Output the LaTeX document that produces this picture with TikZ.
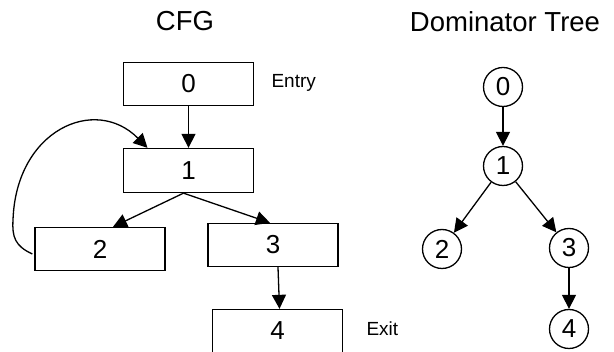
\documentclass[tikz,border=0pt]{standalone}
\usepackage{fontspec}
\setmainfont{Liberation Sans}
\usetikzlibrary{arrows.meta,calc}
\begin{document}
\begin{tikzpicture}[x=1pt,y=-1pt,
  box/.style={draw,line width=1.3pt,minimum width=130pt,minimum height=43pt,inner sep=0pt,font=\fontsize{26}{26}\selectfont},
  tnode/.style={draw,circle,line width=1.3pt,minimum size=39pt,inner sep=0pt,font=\fontsize{26}{26}\selectfont},
  title/.style={font=\fontsize{27.5}{28}\selectfont,anchor=base},
  lbl/.style={font=\fontsize{19}{19}\selectfont,anchor=base west},
  arr/.style={line width=1.3pt,-{Triangle[length=14pt,width=14pt]}}]
\useasboundingbox (0,0) rectangle (614,352);
% titles
\node[title] (tcfg) at (185,31) {CFG};
\node[title] (tdom) at (505,32) {Dominator Tree};
% CFG
\node[box] (b0) at (188.5,84) {0};
\node[box,minimum height=44pt] (b1) at (188.5,170.5) {1};
\node[box] (b2) at (100,249) {2};
\node[box] (b3) at (273,245) {3};
\node[box] (b4) at (277.5,331) {4};
\node[lbl] (entry) at (268,88) {Entry};
\node[lbl] (exit) at (363,336) {Exit};
\draw[arr] (b0.south) -- (b1.north);
\coordinate (b1s) at ([xshift=-5pt]b1.south);
\draw[arr] (b1s) -- ([xshift=13pt]b2.north);
\draw[arr] (b1s) -- ([xshift=-3pt]b3.north);
\draw[arr] ([xshift=5pt]b3.south) -- ([xshift=2pt]b4.north);
\coordinate (cs) at ($(b2.west)+(-2,5)$);
\coordinate (ce) at ([xshift=-41pt]b1.north);
\draw[arr] (cs) .. controls (15,246) and (12,237) .. (13,220)
   .. controls (16,130) and (95,95) .. (ce);
% Dominator tree
\node[tnode] (t0) at (503,87) {0};
\node[tnode] (t1) at (503,166) {1};
\node[tnode] (t2) at (442,249) {2};
\node[tnode] (t3) at (569,248) {3};
\node[tnode] (t4) at (569,329) {4};
\draw[arr] (t0) -- (t1);
\draw[arr] (t1) -- (t2);
\draw[arr] (t1) -- (t3);
\draw[arr] (t3) -- (t4);
\end{tikzpicture}
\end{document}
